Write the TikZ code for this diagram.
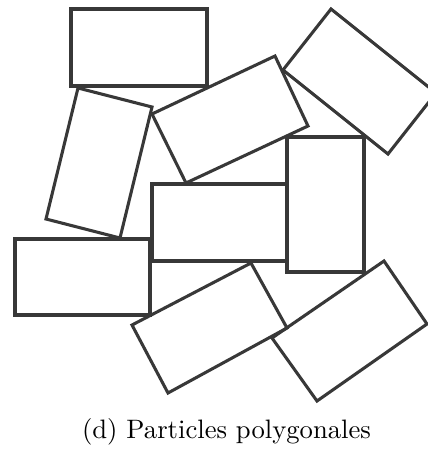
\documentclass[tikz,border=0pt]{standalone}
\begin{document}
\begin{tikzpicture}[x=0.375pt,y=-0.375pt,
  particle/.style={draw=black!78,line width=1.15pt,line join=miter}]
  \useasboundingbox (0,0) rectangle (428,455);
  % axis-aligned particles
  \draw[particle] (71,9) rectangle (207,86);
  \draw[particle] (287,137) rectangle (364,272);
  \draw[particle] (152,184) rectangle (287,261);
  \draw[particle] (15,239) rectangle (150,315);
  % tilted particles
  \draw[particle] (78,88) -- (152,107) -- (120,238) -- (46,219) -- cycle;
  \draw[particle] (152,114) -- (275,56) -- (308,126) -- (186,183) -- cycle;
  \draw[particle] (331,9) -- (436,93) -- (388,154) -- (283,70) -- cycle;
  \draw[particle] (132,325) -- (251,263) -- (287,328) -- (168,393) -- cycle;
  \draw[particle] (272,338) -- (384,261) -- (427,324) -- (317,401) -- cycle;
  \node (caption) at (226.5,432) {(d) Particles polygonales};
\end{tikzpicture}
\end{document}
